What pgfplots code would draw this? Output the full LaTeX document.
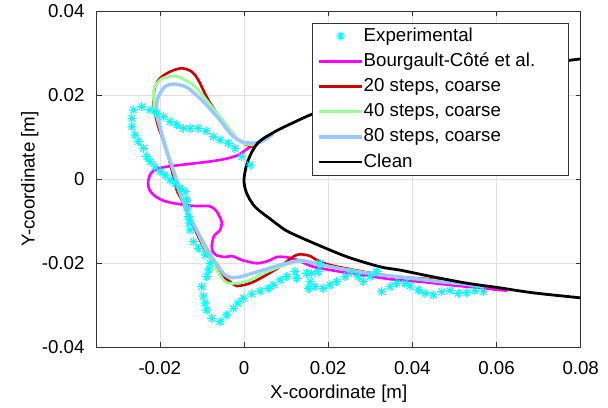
\documentclass[border=0pt]{standalone}
\usepackage{pgfplots}
\pgfplotsset{compat=1.18}
\usepackage{fontspec}
\setmainfont{Liberation Sans}
\newcommand\ff{\fontsize{18.7}{22.4}\selectfont}
\definecolor{cexp}{rgb}{0,1,1}
\definecolor{cmag}{rgb}{1,0,1}
\definecolor{cred}{rgb}{0.8,0,0}
\definecolor{cgrn}{rgb}{0.6,1,0.6}
\definecolor{cblu}{rgb}{0.6,0.78,1}
\pgfdeclareplotmark{matstar}{%
  \pgfpathmoveto{\pgfqpoint{-\pgfplotmarksize}{0pt}}\pgfpathlineto{\pgfqpoint{\pgfplotmarksize}{0pt}}%
  \pgfpathmoveto{\pgfqpoint{0pt}{-\pgfplotmarksize}}\pgfpathlineto{\pgfqpoint{0pt}{\pgfplotmarksize}}%
  \pgfpathmoveto{\pgfqpoint{-0.707\pgfplotmarksize}{-0.707\pgfplotmarksize}}\pgfpathlineto{\pgfqpoint{0.707\pgfplotmarksize}{0.707\pgfplotmarksize}}%
  \pgfpathmoveto{\pgfqpoint{-0.707\pgfplotmarksize}{0.707\pgfplotmarksize}}\pgfpathlineto{\pgfqpoint{0.707\pgfplotmarksize}{-0.707\pgfplotmarksize}}%
  \pgfusepathqstroke}
\pgfplotstableread{
x y
0.00143 0.00333
-0.00055 0.00531
-0.00214 0.00731
-0.00373 0.00850
-0.00570 0.00929
-0.00729 0.01007
-0.00903 0.01143
-0.01093 0.01207
-0.01283 0.01207
-0.01442 0.01207
-0.01599 0.01286
-0.01758 0.01364
-0.01917 0.01483
-0.02074 0.01564
-0.02233 0.01643
-0.02430 0.01721
-0.02629 0.01643
-0.02667 0.01445
-0.02667 0.01245
-0.02589 0.01048
-0.02511 0.00888
-0.02392 0.00731
-0.02311 0.00531
-0.02233 0.00412
-0.02114 0.00293
-0.01995 0.00174
-0.01876 0.00095
-0.01758 -0.00024
-0.01639 -0.00102
-0.01520 -0.00221
-0.01401 -0.00302
-0.01361 -0.00500
-0.01342 -0.00690
-0.01323 -0.00898
-0.01306 -0.01048
-0.01283 -0.01214
-0.01204 -0.01493
-0.01086 -0.01650
-0.00926 -0.01810
-0.00808 -0.02007
-0.00843 -0.02167
-0.00886 -0.02326
-0.01005 -0.02564
-0.00967 -0.02786
-0.00926 -0.02952
-0.00886 -0.03119
-0.00767 -0.03317
-0.00570 -0.03398
-0.00411 -0.03238
-0.00254 -0.03079
-0.00143 -0.02952
-0.00017 -0.02840
0.00183 -0.02738
0.00380 -0.02667
0.00577 -0.02602
0.00696 -0.02524
0.00855 -0.02405
0.01014 -0.02326
0.01211 -0.02207
0.01252 -0.02364
0.01489 -0.02245
0.01608 -0.02245
0.01765 -0.02207
0.01805 -0.02007
0.01568 -0.02445
0.01527 -0.02602
0.01686 -0.02564
0.01884 -0.02602
0.02043 -0.02524
0.02202 -0.02445
0.02399 -0.02326
0.02558 -0.02231
0.02715 -0.02326
0.02834 -0.02445
0.02993 -0.02326
0.03152 -0.02207
0.03271 -0.02683
0.03468 -0.02564
0.03627 -0.02483
0.03824 -0.02483
0.03943 -0.02548
0.04140 -0.02643
0.04299 -0.02721
0.04496 -0.02762
0.04696 -0.02683
0.04893 -0.02660
0.05090 -0.02721
0.05290 -0.02707
0.05487 -0.02660
0.05684 -0.02683
}\expdata
\pgfplotstableread{
x y
0.00689 0.01071
0.00428 0.00905
0.00143 0.00762
-0.00143 0.00571
-0.00451 0.00476
-0.00808 0.00417
-0.01164 0.00374
-0.01520 0.00333
-0.01876 0.00286
-0.02067 0.00238
-0.02209 0.00143
-0.02273 -0.00024
-0.02273 -0.00167
-0.02233 -0.00286
-0.02114 -0.00405
-0.01955 -0.00500
-0.01758 -0.00560
-0.01561 -0.00595
-0.01164 -0.00643
-0.00848 -0.00643
-0.00736 -0.00690
-0.00641 -0.00786
-0.00530 -0.01024
-0.00570 -0.01214
-0.00713 -0.01357
-0.00767 -0.01595
-0.00736 -0.01738
-0.00641 -0.01821
-0.00451 -0.01857
-0.00292 -0.01833
-0.00166 -0.01881
-0.00055 -0.01929
0.00183 -0.01988
0.00333 -0.02007
0.00570 -0.01952
0.00784 -0.01857
0.01021 -0.01864
0.01259 -0.01929
0.01639 -0.02088
0.02043 -0.02167
0.02447 -0.02231
0.02827 -0.02286
0.03230 -0.02350
0.03634 -0.02405
0.04181 -0.02445
0.04893 -0.02524
0.05677 -0.02602
0.06247 -0.02660
}\magdata
\pgfplotstableread{
x y
0.05677 -0.02571
0.05290 -0.02507
0.04418 -0.02388
0.03627 -0.02326
0.02834 -0.02207
0.02043 -0.02048
0.01727 -0.01929
0.01568 -0.01833
0.01330 -0.01793
0.01171 -0.01850
0.00855 -0.02088
0.00458 -0.02326
0.00143 -0.02483
-0.00173 -0.02548
-0.00333 -0.02445
-0.00428 -0.02381
-0.00618 -0.02167
-0.00926 -0.01690
-0.01235 -0.01048
-0.01480 -0.00500
-0.01599 -0.00262
-0.01717 0.00214
-0.01836 0.00690
-0.01917 0.00929
-0.02036 0.01245
-0.02114 0.01564
-0.02154 0.01881
-0.02114 0.02198
-0.01995 0.02398
-0.01758 0.02555
-0.01480 0.02636
-0.01242 0.02555
-0.01086 0.02357
-0.00848 0.01881
-0.00530 0.01405
-0.00214 0.01007
-0.00055 0.00888
0.00183 0.00769
0.00333 0.00857
0.00499 0.00976
}\reddata
\pgfplotstableread{
x y
0.05677 -0.02571
0.05290 -0.02507
0.04418 -0.02405
0.03627 -0.02326
0.02834 -0.02219
0.02043 -0.02083
0.01568 -0.01976
0.01252 -0.01969
0.00855 -0.02088
0.00458 -0.02245
0.00024 -0.02445
-0.00373 -0.02483
-0.00523 -0.02357
-0.00760 -0.01976
-0.01045 -0.01405
-0.01283 -0.00857
-0.01496 -0.00429
-0.01639 0.00048
-0.01781 0.00500
-0.01900 0.00929
-0.02019 0.01286
-0.02114 0.01643
-0.02154 0.02000
-0.02114 0.02214
-0.02036 0.02317
-0.01924 0.02405
-0.01798 0.02436
-0.01639 0.02452
-0.01480 0.02398
-0.01164 0.02198
-0.00767 0.01721
-0.00451 0.01326
-0.00135 0.00929
0.00024 0.00845
0.00183 0.00810
0.00333 0.00857
0.00499 0.00976
}\grndata
\pgfplotstableread{
x y
0.05677 -0.02571
0.05290 -0.02507
0.04656 -0.02445
0.04181 -0.02388
0.03627 -0.02326
0.02834 -0.02231
0.02043 -0.02088
0.01409 -0.01945
0.01252 -0.01952
0.00855 -0.02048
0.00458 -0.02167
0.00064 -0.02286
-0.00135 -0.02340
-0.00333 -0.02340
-0.00492 -0.02245
-0.00767 -0.01850
-0.01086 -0.01293
-0.01401 -0.00660
-0.01480 -0.00421
-0.01679 0.00214
-0.01876 0.00769
-0.01995 0.01245
-0.02074 0.01643
-0.02074 0.01802
-0.02036 0.01960
-0.01917 0.02160
-0.01805 0.02238
-0.01639 0.02262
-0.01473 0.02226
-0.01323 0.02160
-0.01005 0.01881
-0.00610 0.01445
-0.00292 0.01048
-0.00055 0.00888
0.00183 0.00857
0.00420 0.00888
0.00689 0.01071
}\bludata
\pgfplotstableread{
x y
0.0800 -0.0283
0.0687 -0.0271
0.0600 -0.0258
0.0529 -0.0248
0.0449 -0.0233
0.0371 -0.0217
0.0323 -0.0209
0.0244 -0.0185
0.0164 -0.0152
0.0121 -0.0133
0.0097 -0.0121
0.0066 -0.0098
0.0026 -0.0066
0.0006 -0.0033
0.0000 0.0000
0.0010 0.0045
0.0033 0.0086
0.0074 0.0113
0.0121 0.0136
0.0161 0.0154
0.0244 0.0185
0.0323 0.0209
0.0371 0.0217
0.0449 0.0233
0.0529 0.0248
0.0600 0.0258
0.0687 0.0271
0.0800 0.0286
}\cleandata
\begin{document}
\begin{tikzpicture}
\begin{axis}[
  name=ax,
  scale only axis,
  width=484pt, height=336pt,
  xmin=-0.035, xmax=0.08, ymin=-0.04, ymax=0.04,
  xtick={-0.02,0,0.02,0.04,0.06,0.08},
  xticklabels={-0.02,0,0.02,0.04,0.06,0.08},
  ytick={-0.04,-0.02,0,0.02,0.04},
  yticklabels={-0.04,-0.02,0,0.02,0.04},
  scaled ticks=false,
  tick align=inside,
  major tick length=5pt,
  tick style={draw=black!80, line width=0.6pt},
  grid=major,
  grid style={draw=black!12, line width=0.6pt},
  axis line style={draw=black!80, line width=0.8pt},
  xticklabel style={font=\ff, anchor=base, yshift=-28pt, inner sep=0pt},
  yticklabel style={font=\ff, anchor=east, inner sep=0pt, xshift=-12pt},
  every axis x label/.style={at={([yshift=-52pt]axis description cs:0.5,0)}, anchor=base, font=\ff},
  every axis y label/.style={at={([xshift=-62pt]axis description cs:0,0.5)}, rotate=90, anchor=base, font=\ff},
  xlabel={X-coordinate [m]},
  ylabel={Y-coordinate [m]},
  legend image code/.code={\draw[mark repeat=2,mark phase=2,#1] plot coordinates {(0pt,0pt) (21.5pt,0pt) (43pt,0pt)};},
  legend cell align=left,
  legend style={at={(0.9758,0.9652)}, anchor=north east,
    draw=black!80, line width=0.8pt, fill=white, font=\ff,
    inner xsep=5pt, inner ysep=4pt, row sep=7.2pt,
    nodes={inner sep=0pt, text height=14pt, text depth=4pt},
    /tikz/every even column/.append style={column sep=5pt}},
]
\addplot[only marks, mark=matstar, mark size=4.5pt, mark options={draw=cexp, line width=1.1pt}] table {\expdata};
\addlegendentry{Experimental}
\addplot[cmag, line width=2.6pt, smooth, tension=0.5] table {\magdata};
\addlegendentry{Bourgault-Côté et al.}
\addplot[cred, line width=2.6pt, smooth, tension=0.5] table {\reddata};
\addlegendentry{20 steps, coarse}
\addplot[cgrn, line width=2.8pt, smooth, tension=0.5] table {\grndata};
\addlegendentry{40 steps, coarse}
\addplot[cblu, line width=3.4pt, smooth, tension=0.5] table {\bludata};
\addlegendentry{80 steps, coarse}
\addplot[black, line width=2.8pt, smooth, tension=0.5] table {\cleandata};
\addlegendentry{Clean\hspace*{151pt}}
\end{axis}
\pgfresetboundingbox
\path[use as bounding box] ([shift={(-96.7pt,-61pt)}]ax.south west) rectangle ([shift={(27.3pt,11pt)}]ax.north east);
\end{tikzpicture}
\end{document}
